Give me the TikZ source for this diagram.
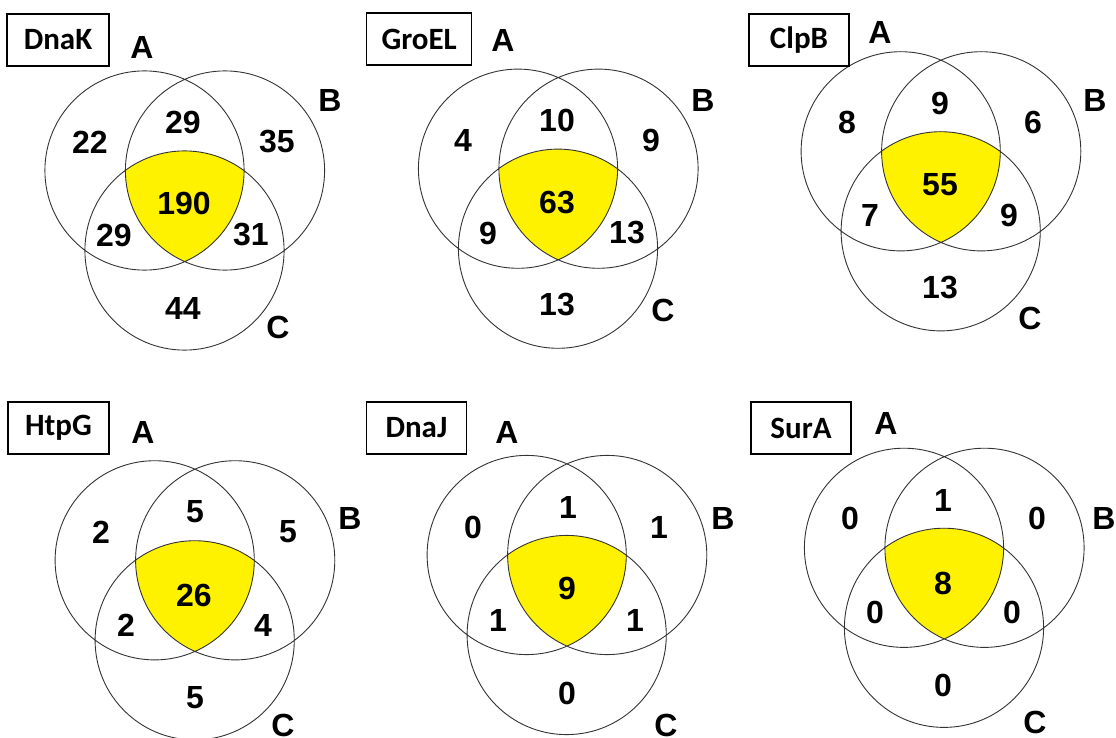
\documentclass[tikz,border=0pt]{standalone}
\usepackage{fontspec}
\setmainfont{Liberation Sans}
\newfontfamily\boxfont{Carlito}
\usetikzlibrary{calc}
\tikzset{
  venn/.style={draw=black!80, line width=0.9pt},
  core/.style={fill=yellow},
  num/.style={font=\fontsize{32}{32}\selectfont\bfseries, inner sep=0pt},
  setlab/.style={font=\fontsize{32}{32}\selectfont\bfseries, inner sep=0pt},
  title/.style={draw=black, line width=1.3pt, font=\boxfont\fontsize{31}{31}\selectfont\bfseries, minimum height=52pt, inner sep=0pt}
}
\newcommand{\vennthree}[3]{%
  \coordinate (#3A) at (#1,#2);
  \coordinate (#3B) at ($(#3A)+(80.5,0)$);
  \coordinate (#3C) at ($(#3A)+(40,80)$);
  \begin{scope}
    \clip (#3A) circle[radius=99.6pt];
    \clip (#3B) circle[radius=99.6pt];
    \fill[core] (#3C) circle[radius=99.6pt];
  \end{scope}
  \draw[venn] (#3A) circle[radius=99.6pt] (#3B) circle[radius=99.6pt] (#3C) circle[radius=99.6pt];
}
\begin{document}
\begin{tikzpicture}[x=1pt,y=-1pt]
\useasboundingbox (0,0) rectangle (1116,738);
\fill[white] (0,0) rectangle (1116,738);

% ---------- DnaK ----------
\vennthree{144.5}{170.5}{p1}
\node[title, minimum width=102pt] (t1) at (58,40) {DnaK};
\node[setlab] (p1la) at (142,47) {A};
\node[setlab] (p1lb) at (330,100) {B};
\node[setlab] (p1lc) at (278,327) {C};
\node[num] (p1a) at (90,142) {22};
\node[num] (p1ab) at (183,122) {29};
\node[num] (p1b) at (277,142) {35};
\node[num] (p1abc) at (184,203) {190};
\node[num] (p1ac) at (114,235) {29};
\node[num] (p1bc) at (251,235) {31};
\node[num] (p1c) at (183,308) {44};

% ---------- GroEL ----------
\vennthree{518}{168.7}{p2}
\node[title, minimum width=105pt] (t2) at (419.2,39) {GroEL};
\node[setlab] (p2la) at (503,40) {A};
\node[setlab] (p2lb) at (703,100) {B};
\node[setlab] (p2lc) at (663,310) {C};
\node[num] (p2a) at (463,140) {4};
\node[num] (p2ab) at (557,120) {10};
\node[num] (p2b) at (651,140) {9};
\node[num] (p2abc) at (557,203) {63};
\node[num] (p2ac) at (488,233) {9};
\node[num] (p2bc) at (627,233) {13};
\node[num] (p2c) at (557,305) {13};

% ---------- ClpB ----------
\vennthree{900.7}{151.3}{p3}
\node[title, minimum width=100pt] (t3) at (799,40) {ClpB};
\node[setlab] (p3la) at (880,32) {A};
\node[setlab] (p3lb) at (1095,100) {B};
\node[setlab] (p3lc) at (1030,318) {C};
\node[num] (p3a) at (847,122) {8};
\node[num] (p3ab) at (940,103) {9};
\node[num] (p3b) at (1033,122) {6};
\node[num] (p3abc) at (940,185) {55};
\node[num] (p3ac) at (870,215) {7};
\node[num] (p3bc) at (1009,215) {9};
\node[num] (p3c) at (940,288) {13};

% ---------- HtpG ----------
\vennthree{154.7}{560.3}{p4}
\node[title, minimum width=101pt] (t4) at (58.5,428) {HtpG};
\node[setlab] (p4la) at (143,432) {A};
\node[setlab] (p4lb) at (350,518) {B};
\node[setlab] (p4lc) at (283,725) {C};
\node[num] (p4a) at (101,532) {2};
\node[num] (p4ab) at (195,512) {5};
\node[num] (p4b) at (288,532) {5};
\node[num] (p4abc) at (194,595) {26};
\node[num] (p4ac) at (126,625) {2};
\node[num] (p4bc) at (263,625) {4};
\node[num] (p4c) at (195,698) {5};

% ---------- DnaJ ----------
\vennthree{526.7}{555}{p5}
\node[title, minimum width=100pt] (t5) at (416.4,428) {DnaJ};
\node[setlab] (p5la) at (507,432) {A};
\node[setlab] (p5lb) at (723,518) {B};
\node[setlab] (p5lc) at (666,725) {C};
\node[num] (p5a) at (473,527) {0};
\node[num] (p5ab) at (568,507) {1};
\node[num] (p5b) at (659,527) {1};
\node[num] (p5abc) at (567,588) {9};
\node[num] (p5ac) at (498,620) {1};
\node[num] (p5bc) at (635,620) {1};
\node[num] (p5c) at (567,693) {0};

% ---------- SurA ----------
\vennthree{904}{547.8}{p6}
\node[title, minimum width=100pt] (t6) at (801,428) {SurA};
\node[setlab] (p6la) at (886,423) {A};
\node[setlab] (p6lb) at (1104,518) {B};
\node[setlab] (p6lc) at (1035,722) {C};
\node[num] (p6a) at (850,518) {0};
\node[num] (p6ab) at (943,500) {1};
\node[num] (p6b) at (1037,518) {0};
\node[num] (p6abc) at (943,583) {8};
\node[num] (p6ac) at (875,612) {0};
\node[num] (p6bc) at (1012,612) {0};
\node[num] (p6c) at (943,685) {0};
\end{tikzpicture}
\end{document}
